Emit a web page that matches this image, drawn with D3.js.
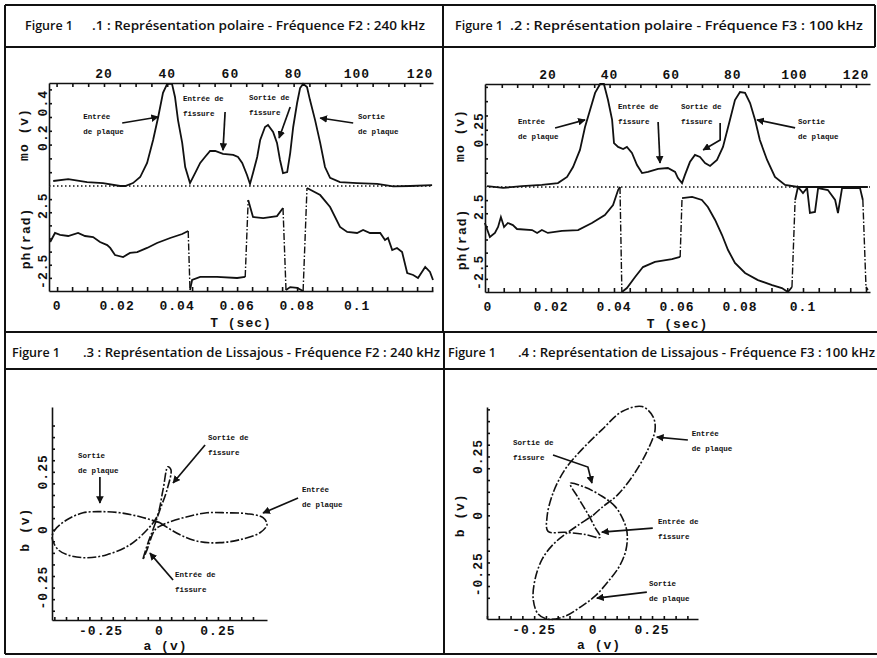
<!DOCTYPE html>
<html>
<head>
<meta charset="utf-8">
<script src="https://cdn.jsdelivr.net/npm/d3@7"></script>
<style>
  body { margin: 0; background: #fff; }
  svg { display: block; }
  .lab { font-family: "Liberation Mono", "DejaVu Sans Mono", monospace; font-weight: bold; font-size: 13px; letter-spacing: 1px; fill: #111; }
  .note { font-family: "Liberation Mono", "DejaVu Sans Mono", monospace; font-weight: bold; font-size: 7.5px; fill: #111; }
  .title { font-family: "Open Sans", sans-serif; font-weight: 600; font-size: 12.5px; fill: #111; }
  .axis path, .axis line { stroke: #111; stroke-width: 1.6; }
  .frame line { stroke: #111; stroke-width: 2; }
</style>
</head>
<body>
<div id="chart"></div>
<script>
var svgWidth = 877;
var svgHeight = 658;

// ---- values ----
// polar plots: [time (sec), value]
var magF2 = [[-0.0013,-0.051],[0.0037,-0.040],[0.0100,-0.057],[0.0153,-0.063],[0.0210,-0.080],[0.0227,-0.080],[0.0253,-0.063],[0.0277,-0.028],[0.0300,0.054],[0.0320,0.187],[0.0337,0.320],[0.0353,0.460],[0.0367,0.512],[0.0383,0.512],[0.0393,0.436],[0.0403,0.302],[0.0417,0.170],[0.0427,0.030],[0.0443,-0.063],[0.0460,-0.005],[0.0477,0.054],[0.0493,0.088],[0.0510,0.123],[0.0527,0.123],[0.0553,0.106],[0.0587,0.100],[0.0603,0.088],[0.0617,0.054],[0.0633,-0.016],[0.0643,-0.068],[0.0653,-0.005],[0.0667,0.088],[0.0677,0.187],[0.0693,0.262],[0.0703,0.274],[0.0720,0.233],[0.0733,0.170],[0.0743,0.071],[0.0753,-0.005],[0.0767,0.001],[0.0777,0.111],[0.0787,0.262],[0.0800,0.401],[0.0810,0.488],[0.0820,0.512],[0.0833,0.494],[0.0843,0.418],[0.0860,0.302],[0.0877,0.170],[0.0893,0.030],[0.0910,-0.033],[0.0943,-0.057],[0.1000,-0.063],[0.1067,-0.068],[0.1120,-0.082],[0.1177,-0.080],[0.1250,-0.075]];

var phaseF2 = [[-0.0023,-0.27],[-0.0007,0.42],[0.0010,0.27],[0.0037,0.19],[0.0070,0.42],[0.0093,0.19],[0.0120,0.11],[0.0143,-0.27],[0.0167,-0.50],[0.0177,-0.72],[0.0193,-1.26],[0.0220,-1.41],[0.0243,-1.10],[0.0267,-1.03],[0.0300,-0.72],[0.0333,-0.34],[0.0377,0.04],[0.0417,0.34],[0.0437,0.57],[0.0443,-3.92],[0.0450,-3.16],[0.0477,-2.93],[0.0533,-2.93],[0.0600,-3.01],[0.0627,-2.93],[0.0637,2.93],[0.0653,1.64],[0.0687,1.56],[0.0733,1.71],[0.0753,2.32],[0.0763,-3.92],[0.0777,-3.70],[0.0800,-3.77],[0.0820,-4.0],[0.0833,3.85],[0.0877,3.31],[0.0910,2.40],[0.0943,0.88],[0.0967,0.50],[0.1000,0.42],[0.1020,0.65],[0.1043,0.42],[0.1077,0.42],[0.1093,-0.11],[0.1103,0.04],[0.1117,-0.88],[0.1133,-0.72],[0.1150,-1.03],[0.1167,-2.63],[0.1187,-2.78],[0.1203,-3.01],[0.1227,-2.17],[0.1243,-2.55],[0.1253,-3.16]];

var magF3 = [[-0.0003,0.004],[0.0048,-0.004],[0.0108,0.004],[0.0171,0.009],[0.0222,0.017],[0.0251,0.044],[0.0270,0.087],[0.0292,0.162],[0.0308,0.262],[0.0324,0.336],[0.0340,0.411],[0.0356,0.45],[0.0368,0.45],[0.0381,0.380],[0.0394,0.293],[0.0400,0.192],[0.0413,0.175],[0.0429,0.166],[0.0441,0.175],[0.0457,0.149],[0.0473,0.096],[0.0489,0.061],[0.0508,0.066],[0.0540,0.079],[0.0571,0.083],[0.0594,0.066],[0.0603,0.039],[0.0616,0.017],[0.0625,0.052],[0.0641,0.109],[0.0657,0.140],[0.0673,0.131],[0.0689,0.105],[0.0705,0.092],[0.0727,0.118],[0.0746,0.175],[0.0768,0.293],[0.0784,0.380],[0.0800,0.415],[0.0816,0.411],[0.0832,0.367],[0.0848,0.293],[0.0863,0.205],[0.0886,0.118],[0.0911,0.044],[0.0943,0.009],[0.0984,0],[0.1133,0],[0.1206,0]];

var phaseF3 = [[-0.0010,1.26],[0.0006,0.19],[0.0022,0.50],[0.0032,0.95],[0.0041,1.71],[0.0051,0.95],[0.0063,1.26],[0.0079,1.10],[0.0092,0.80],[0.0140,0.72],[0.0156,0.50],[0.0171,0.72],[0.0190,0.50],[0.0235,0.65],[0.0286,0.72],[0.0330,1.26],[0.0371,1.87],[0.0397,2.63],[0.0413,3.77],[0.0419,4.0],[0.0425,-4.0],[0.0441,-3.70],[0.0467,-2.86],[0.0492,-2.10],[0.0530,-1.71],[0.0584,-1.49],[0.0610,-1.33],[0.0616,3.16],[0.0648,3.24],[0.0679,3.01],[0.0698,2.48],[0.0721,1.49],[0.0743,0.34],[0.0762,-0.80],[0.0784,-1.79],[0.0816,-2.55],[0.0857,-3.09],[0.0902,-3.47],[0.0933,-3.70],[0.0952,-4.0],[0.0965,-3.62],[0.0975,3.01],[0.0984,4.0],[0.1000,3.54],[0.1013,3.92],[0.1022,2.02],[0.1038,2.10],[0.1048,3.92],[0.1079,3.77],[0.1102,3.01],[0.1111,2.02],[0.1124,3.92],[0.1181,3.92],[0.1190,3.01],[0.1200,-3.62],[0.1206,-3.85]];

// lissajous plots: [a (v), b (v)]
var lissF2 = [[0.002,0.030],[0.088,-0.022],[0.173,-0.052],[0.259,-0.056],[0.344,-0.043],[0.430,-0.013],[0.460,0.022],[0.443,0.052],[0.374,0.069],[0.289,0.073],[0.203,0.073],[0.118,0.056],[0.045,0.034],[0.015,0.022],[-0.019,0.0],[-0.053,-0.086],[-0.071,-0.129],[-0.049,-0.056],[-0.028,0.0],[0.002,0.086],[0.032,0.172],[0.049,0.259],[0.036,0.272],[0.015,0.172],[-0.011,0.056],[-0.053,0.0],[-0.126,-0.065],[-0.225,-0.108],[-0.310,-0.121],[-0.383,-0.112],[-0.434,-0.086],[-0.460,-0.034],[-0.447,0.0],[-0.396,0.043],[-0.327,0.073],[-0.255,0.078],[-0.169,0.073],[-0.083,0.056],[0.002,0.030]];

var lissF3 = [[0,0],[0.038,0.034],[0.106,0.089],[0.178,0.182],[0.233,0.280],[0.263,0.364],[0.254,0.419],[0.208,0.462],[0.123,0.441],[0.038,0.364],[-0.047,0.280],[-0.119,0.195],[-0.169,0.097],[-0.195,-0.004],[-0.191,-0.068],[-0.119,-0.072],[-0.034,-0.081],[0.030,-0.093],[0.008,-0.051],[-0.021,0.004],[-0.064,0.076],[-0.097,0.136],[-0.034,0.119],[0.038,0.081],[0.093,0.038],[0.127,-0.017],[0.144,-0.072],[0.140,-0.144],[0.114,-0.212],[0.072,-0.271],[0.008,-0.343],[-0.055,-0.390],[-0.119,-0.428],[-0.191,-0.441],[-0.233,-0.419],[-0.254,-0.356],[-0.246,-0.271],[-0.216,-0.186],[-0.169,-0.123],[-0.119,-0.081],[-0.064,-0.042],[0,0]];

// tick labels
var sampleLabels = [20, 40, 60, 80, 100, 120];
var timeLabels = [0, 0.02, 0.04, 0.06, 0.08, 0.1];
var magLabelsF2 = [0.2, 0.4];
var magLabelsF3 = [0.25];
var phaseLabels = [-2.5, 2.5];
var lissLabels = [-0.25, 0, 0.25];

var titleTexts = [
  ".1 : Représentation polaire - Fréquence F2 : 240 kHz",
  ".2 : Représentation polaire - Fréquence F3 : 100 kHz",
  ".3 : Représentation de Lissajous - Fréquence F2 : 240 kHz",
  ".4 : Représentation de Lissajous - Fréquence F3 : 100 kHz"
];

// annotations, anchored in data units
var notesF2 = [
  {lines: ["Entrée", "de plaque"], pos: [0.0087, 0.320], path: [[0.0217, 0.285], [0.0337, 0.320]]},
  {lines: ["Entrée de", "fissure"], pos: [0.0420, 0.424], path: [[0.0560, 0.349], [0.0553, 0.128]]},
  {lines: ["Sortie de", "fissure"], pos: [0.0640, 0.430], path: [[0.0777, 0.378], [0.0740, 0.198]]},
  {lines: ["Sortie", "de plaque"], pos: [0.1003, 0.320], path: [[0.0987, 0.285], [0.0877, 0.314]]}
];
var notesF3 = [
  {lines: ["Entrée", "de plaque"], pos: [0.0095, 0.284], path: [[0.0213, 0.258], [0.0308, 0.293]]},
  {lines: ["Entrée de", "fissure"], pos: [0.0413, 0.349], path: [[0.0540, 0.284], [0.0546, 0.105]]},
  {lines: ["Sortie de", "fissure"], pos: [0.0613, 0.349], path: [[0.0737, 0.280], [0.0737, 0.205], [0.0683, 0.162]]},
  {lines: ["Sortie", "de plaque"], pos: [0.0984, 0.284], path: [[0.0975, 0.258], [0.0854, 0.293]]}
];
var notesLissF2 = [
  {lines: ["Sortie", "de plaque"], pos: [-0.349, 0.318], path: [[-0.255, 0.228], [-0.255, 0.115]]},
  {lines: ["Sortie de", "fissure"], pos: [0.208, 0.396], path: [[0.195, 0.366], [0.058, 0.202]]},
  {lines: ["Entrée", "de plaque"], pos: [0.610, 0.171], path: [[0.593, 0.137], [0.443, 0.072]]},
  {lines: ["Entrée de", "fissure"], pos: [0.066, -0.196], path: [[0.058, -0.217], [-0.041, -0.101]]}
];
var notesLissF3 = [
  {lines: ["Entrée", "de plaque"], pos: [0.419, 0.345], path: [[0.402, 0.320], [0.270, 0.332]]},
  {lines: ["Sortie de", "fissure"], pos: [-0.340, 0.307], path: [[-0.170, 0.256], [-0.022, 0.205], [-0.005, 0.137]]},
  {lines: ["Entrée de", "fissure"], pos: [0.275, -0.028], path: [[0.253, -0.054], [0.037, -0.071]]},
  {lines: ["Sortie", "de plaque"], pos: [0.237, -0.292], path: [[0.228, -0.326], [0.016, -0.351]]}
];

var svg = d3.select("#chart")
  .append("svg")
  .attr("width", svgWidth)
  .attr("height", svgHeight);

svg.append("defs").append("marker")
  .attr("id", "arrow")
  .attr("viewBox", "0 0 10 10")
  .attr("refX", 9).attr("refY", 5)
  .attr("markerWidth", 4.5).attr("markerHeight", 4.5)
  .attr("orient", "auto")
  .append("path")
  .attr("d", "M0,0 L10,5 L0,10 z")
  .attr("fill", "#111");

// page frame
var frameLines = [
  [5, 5, 875, 5], [5, 47, 875, 47], [875, 5, 875, 47],
  [5, 5, 5, 654], [443, 5, 443, 332], [444, 332, 444, 654],
  [5, 332, 877, 332], [5, 369, 877, 369], [5, 654, 877, 654]
];
svg.append("g").attr("class", "frame")
  .selectAll("line")
  .data(frameLines)
  .join("line")
  .attr("x1", d => d[0]).attr("y1", d => d[1])
  .attr("x2", d => d[2]).attr("y2", d => d[3]);

// titles
var titleLayout = [
  {figX: 25, subX: 92, subEnd: 425, y: 29.5},
  {figX: 455, subX: 510, subEnd: 863, y: 29.5},
  {figX: 12, subX: 83, subEnd: 440, y: 356.5},
  {figX: 448, subX: 518, subEnd: 875, y: 356.5}
];
titleLayout.forEach(function(t, i) {
  svg.append("text").attr("class", "title").attr("x", t.figX).attr("y", t.y).text("Figure 1");
  svg.append("text").attr("class", "title")
    .attr("x", t.subX).attr("y", t.y)
    .attr("textLength", t.subEnd - t.subX)
    .attr("lengthAdjust", "spacingAndGlyphs")
    .text(titleTexts[i]);
});

function fmt(d) {
  return d === 0 ? "0" : String(+d.toFixed(2));
}

function rotatedLabel(g, x, y, text) {
  g.append("text")
    .attr("class", "lab")
    .attr("transform", `translate(${x},${y}) rotate(-90)`)
    .attr("text-anchor", "middle")
    .attr("dominant-baseline", "central")
    .text(text);
}

function drawNotes(g, notes, x, y) {
  notes.forEach(function(n) {
    var t = g.append("text")
      .attr("class", "note")
      .attr("dominant-baseline", "central")
      .attr("y", y(n.pos[1]));
    n.lines.forEach(function(s, i) {
      t.append("tspan").attr("x", x(n.pos[0])).attr("dy", i ? 15 : 0).text(s);
    });
    g.append("path")
      .attr("d", d3.line()(n.path.map(p => [x(p[0]), y(p[1])])))
      .attr("fill", "none")
      .attr("stroke", "#111")
      .attr("stroke-width", 1.7)
      .attr("marker-end", "url(#arrow)");
  });
}

// split a phase trace where it wraps around +/-pi
function splitWraps(data) {
  var runs = [], jumps = [], cur = [data[0]];
  for (var i = 1; i < data.length; i++) {
    if (Math.abs(data[i][1] - data[i - 1][1]) > 4) {
      runs.push(cur);
      jumps.push([data[i - 1], data[i]]);
      cur = [data[i]];
    } else {
      cur.push(data[i]);
    }
  }
  runs.push(cur);
  return {runs: runs, jumps: jumps};
}

function drawPolar(p) {
  var g = svg.append("g");
  var x = d3.scaleLinear().domain(p.tDomain).range([p.left, p.right]);
  var n = d3.scaleLinear().domain(p.nDomain).range([p.left, p.right]);
  var yMag = d3.scaleLinear().domain(p.magDomain).range([p.mid, p.top]);
  var yPh = d3.scaleLinear().domain([-4, 4]).range([p.bottom, p.mid]);

  // top axis (sample index)
  g.append("g").attr("class", "axis")
    .attr("transform", `translate(0,${p.top})`)
    .call(d3.axisTop(n).tickValues(d3.range(5, 121, 5)).tickSize(-4).tickSizeOuter(0).tickFormat(""));
  g.selectAll(".nlab").data(sampleLabels).join("text")
    .attr("class", "lab nlab")
    .attr("x", d => n(d)).attr("y", p.top - 5)
    .attr("text-anchor", "middle")
    .text(d => d);

  // bottom axis (time)
  g.append("g").attr("class", "axis")
    .attr("transform", `translate(0,${p.bottom})`)
    .call(d3.axisBottom(x).tickValues(d3.range(0, p.tMax, 0.005)).tickSize(-4).tickSizeOuter(0).tickFormat(""));
  g.selectAll(".tlab").data(timeLabels).join("text")
    .attr("class", "lab tlab")
    .attr("x", d => x(d)).attr("y", p.bottom + 19)
    .attr("text-anchor", "middle")
    .text(fmt);
  g.append("text").attr("class", "lab")
    .attr("x", (p.left + p.right) / 2).attr("y", p.bottom + 36)
    .attr("text-anchor", "middle")
    .text("T (sec)");

  // left axes
  g.append("g").attr("class", "axis")
    .attr("transform", `translate(${p.left},0)`)
    .call(d3.axisLeft(yMag).tickValues(p.magTicks).tickSize(-3).tickSizeOuter(0).tickFormat(""));
  g.append("g").attr("class", "axis")
    .attr("transform", `translate(${p.left},0)`)
    .call(d3.axisLeft(yPh).tickValues(d3.range(-3, 4, 1)).tickSize(-3).tickSizeOuter(0).tickFormat(""));
  p.magLabels.forEach(d => rotatedLabel(g, p.left - 6, yMag(d), fmt(d)));
  phaseLabels.forEach(d => rotatedLabel(g, p.left - 6, yPh(d), String(d)));
  rotatedLabel(g, p.left - 25, (p.top + p.mid) / 2, "mo (v)");
  rotatedLabel(g, p.left - 23, (p.mid + p.bottom) / 2, "ph(rad)");

  // dotted separator between the two traces
  g.append("line")
    .attr("x1", p.left).attr("x2", p.right)
    .attr("y1", p.mid).attr("y2", p.mid)
    .attr("stroke", "#111").attr("stroke-width", 1.4)
    .attr("stroke-dasharray", "1.5,2.5");

  var magLine = d3.line().x(d => x(d[0])).y(d => yMag(d[1]));
  g.append("path").datum(p.mag)
    .attr("d", magLine)
    .attr("fill", "none").attr("stroke", "#111").attr("stroke-width", 1.8);

  var phLine = d3.line().x(d => x(d[0])).y(d => yPh(d[1]));
  var parts = splitWraps(p.phase);
  g.selectAll(".ph-run").data(parts.runs).join("path")
    .attr("class", "ph-run")
    .attr("d", phLine)
    .attr("fill", "none").attr("stroke", "#111").attr("stroke-width", 1.8);
  g.selectAll(".ph-jump").data(parts.jumps).join("path")
    .attr("class", "ph-jump")
    .attr("d", phLine)
    .attr("fill", "none").attr("stroke", "#111").attr("stroke-width", 1.4)
    .attr("stroke-dasharray", "7,2,1.5,2");

  drawNotes(g, p.notes, x, yMag);
}

function drawLissajous(p) {
  var g = svg.append("g");
  var x = d3.scaleLinear().domain(p.aDomain).range([p.left, p.right]);
  var y = d3.scaleLinear().domain(p.bDomain).range([p.bottom, p.top]);

  g.append("g").attr("class", "axis")
    .attr("transform", `translate(0,${p.bottom})`)
    .call(d3.axisBottom(x).tickValues(d3.range(-0.45, 0.45, 0.05)).tickSize(-3).tickSizeOuter(0).tickFormat(""));
  g.append("g").attr("class", "axis")
    .attr("transform", `translate(${p.left},0)`)
    .call(d3.axisLeft(y).tickValues(d3.range(-0.35, 0.5, 0.05)).tickSize(-3).tickSizeOuter(0).tickFormat(""));

  g.selectAll(".xlab").data(lissLabels).join("text")
    .attr("class", "lab xlab")
    .attr("x", d => x(d)).attr("y", p.bottom + 15)
    .attr("text-anchor", "middle")
    .text(fmt);
  g.append("text").attr("class", "lab")
    .attr("x", x(0) + 6).attr("y", p.bottom + 30)
    .attr("text-anchor", "middle")
    .text("a (v)");
  lissLabels.forEach(d => rotatedLabel(g, p.left - 9, y(d), fmt(d)));
  rotatedLabel(g, p.left - 27, y(0), "b (v)");

  g.append("path").datum(p.data)
    .attr("d", d3.line().x(d => x(d[0])).y(d => y(d[1])).curve(d3.curveCatmullRom.alpha(0.5)))
    .attr("fill", "none").attr("stroke", "#111").attr("stroke-width", 1.6)
    .attr("stroke-dasharray", "9,2,2,2");

  drawNotes(g, p.notes, x, y);
}

drawPolar({
  left: 49, right: 433, top: 83, mid: 186, bottom: 291,
  tDomain: [-0.0027, 0.1253], tMax: 0.1251, nDomain: [2.6, 124.1],
  magDomain: [-0.08, 0.517], magTicks: d3.range(0, 0.5, 0.08), magLabels: magLabelsF2,
  mag: magF2, phase: phaseF2, notes: notesF2
});

drawPolar({
  left: 485, right: 870, top: 84, mid: 187, bottom: 292,
  tDomain: [-0.00095, 0.12127], tMax: 0.1201, nDomain: [-0.45, 124.55],
  magDomain: [0, 0.45], magTicks: d3.range(0.0625, 0.45, 0.0625), magLabels: magLabelsF3,
  mag: magF3, phase: phaseF3, notes: notesF3
});

drawLissajous({
  left: 52, right: 267, top: 407, bottom: 620,
  aDomain: [-0.46, 0.46], bDomain: [-0.39, 0.53],
  data: lissF2, notes: notesLissF2
});

drawLissajous({
  left: 487, right: 698, top: 407, bottom: 619,
  aDomain: [-0.45, 0.445], bDomain: [-0.44, 0.46],
  data: lissF3, notes: notesLissF3
});
</script>
</body>
</html>
